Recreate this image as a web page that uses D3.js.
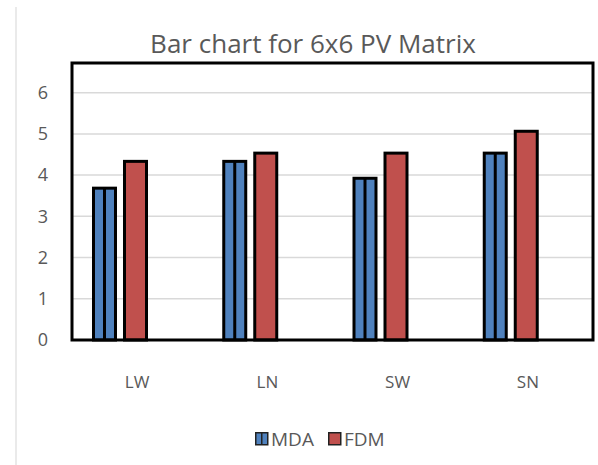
<!DOCTYPE html>
<html>
<head>
<meta charset="utf-8">
<script src="https://cdn.jsdelivr.net/npm/d3@7"></script>
<style>
  body { margin: 0; background: #fff; }
  svg { display: block; font-family: "Open Sans", "Liberation Sans", sans-serif; }
</style>
</head>
<body>
<svg id="chart" width="598" height="465"></svg>
<script>
// data
const categories = ["LW", "LN", "SW", "SN"];
const seriesNames = ["MDA", "FDM"];
const mdaValues = [3.72, 4.37, 3.96, 4.57];
const fdmValues = [4.37, 4.57, 4.57, 5.1];
const yTicks = [0, 1, 2, 3, 4, 5, 6];
const colors = { MDA: "#4f81bd", FDM: "#c0504d" };

const rows = categories.map((c, i) => ({ cat: c, MDA: mdaValues[i], FDM: fdmValues[i] }));

const svg = d3.select("#chart");
const plot = { left: 72, right: 593, top: 63, bottom: 340 };

// faint outer chart border on the left
svg.append("line")
  .attr("x1", 16).attr("x2", 16)
  .attr("y1", 7).attr("y2", 465)
  .attr("stroke", "#e3e3e3").attr("stroke-width", 1.5);

// title
svg.append("text")
  .attr("x", 313).attr("y", 53)
  .attr("text-anchor", "middle")
  .attr("fill", "#595959")
  .attr("font-size", 26)
  .text("Bar chart for 6x6 PV Matrix");

const y = d3.scaleLinear()
  .domain([0, 6.72])
  .range([plot.bottom, plot.top]);

const x = d3.scaleBand()
  .domain(categories)
  .range([plot.left, plot.right]);

// bars sit in the left part of each band
const x1 = d3.scaleBand()
  .domain(seriesNames)
  .range([20, 76])
  .paddingInner(0.194);

// gridlines
svg.append("g")
  .selectAll("line")
  .data(yTicks.filter(t => t > 0))
  .enter()
  .append("line")
  .attr("x1", plot.left).attr("x2", plot.right)
  .attr("y1", d => y(d)).attr("y2", d => y(d))
  .attr("stroke", "#d9d9d9").attr("stroke-width", 1.5);

// y axis labels
const yAxis = svg.append("g")
  .attr("transform", "translate(" + (plot.left - 24) + ",0)")
  .call(d3.axisLeft(y).tickValues(yTicks).tickFormat(d3.format("d")).tickSize(0).tickPadding(0));
yAxis.select(".domain").remove();
yAxis.selectAll("text")
  .attr("font-size", 18)
  .attr("fill", "#595959")
  .attr("font-family", "Open Sans, Liberation Sans, sans-serif");

// x axis labels
const xAxis = svg.append("g")
  .attr("transform", "translate(0," + (plot.bottom + 36) + ")")
  .call(d3.axisBottom(x).tickSize(0).tickPadding(0));
xAxis.select(".domain").remove();
xAxis.selectAll("text")
  .attr("font-size", 17)
  .attr("fill", "#595959")
  .attr("font-family", "Open Sans, Liberation Sans, sans-serif");

// bars
const groups = svg.append("g")
  .selectAll("g")
  .data(rows)
  .enter()
  .append("g")
  .attr("transform", d => "translate(" + x(d.cat) + ",0)");

groups.selectAll("rect")
  .data(d => seriesNames.map(s => ({ key: s, value: d[s] })))
  .enter()
  .append("rect")
  .attr("x", d => x1(d.key) + 1.5)
  .attr("y", d => y(d.value) + 1.5)
  .attr("width", x1.bandwidth() - 3)
  .attr("height", d => y(0) - y(d.value) - 1.5)
  .attr("fill", d => colors[d.key])
  .attr("stroke", "#000")
  .attr("stroke-width", 3);

// the MDA bars have a divider down the middle
groups.append("line")
  .attr("x1", x1("MDA") + x1.bandwidth() / 2)
  .attr("x2", x1("MDA") + x1.bandwidth() / 2)
  .attr("y1", d => y(d.MDA) + 1.5)
  .attr("y2", y(0))
  .attr("stroke", "#000")
  .attr("stroke-width", 3);

// plot area frame
svg.append("rect")
  .attr("x", plot.left).attr("y", plot.top)
  .attr("width", plot.right - plot.left)
  .attr("height", plot.bottom - plot.top)
  .attr("fill", "none")
  .attr("stroke", "#000")
  .attr("stroke-width", 3);

// legend
const legendItems = [
  { key: "MDA", x: 255 },
  { key: "FDM", x: 328 }
];
const legend = svg.append("g")
  .selectAll("g")
  .data(legendItems)
  .enter()
  .append("g")
  .attr("transform", d => "translate(" + d.x + ",432)");

legend.append("rect")
  .attr("x", 0.75).attr("y", 0.75)
  .attr("width", 12).attr("height", 12)
  .attr("fill", d => colors[d.key])
  .attr("stroke", "#222")
  .attr("stroke-width", 1.5);

legend.filter(d => d.key === "MDA")
  .append("line")
  .attr("x1", 6.75).attr("x2", 6.75)
  .attr("y1", 0.75).attr("y2", 12.75)
  .attr("stroke", "#222").attr("stroke-width", 1.5);

legend.append("text")
  .attr("x", 16).attr("y", 14)
  .attr("font-size", 19)
  .attr("fill", "#595959")
  .text(d => d.key);
</script>
</body>
</html>
